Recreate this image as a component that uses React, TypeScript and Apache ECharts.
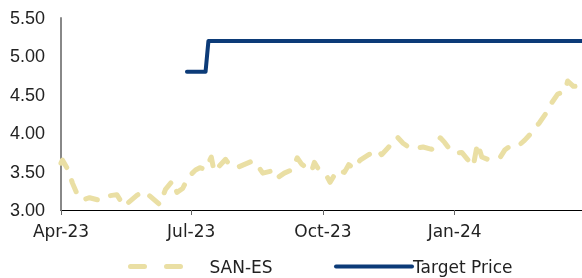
import React, { useEffect, useRef } from 'react';
import * as echarts from 'echarts';

const axisStart = '2023-04-01';
const axisEnd = '2024-03-30';

const tickDates = ['2023-04-01', '2023-07-01', '2023-10-01', '2024-01-01'];
const tickLabels = ['Apr-23', 'Jul-23', 'Oct-23', 'Jan-24'];

const sanDates = [
  '2023-04-01', '2023-04-02', '2023-04-06', '2023-04-09', '2023-04-12', '2023-04-16',
  '2023-04-21', '2023-04-27', '2023-05-03', '2023-05-10', '2023-05-15', '2023-05-17',
  '2023-05-24', '2023-05-28', '2023-06-01', '2023-06-09', '2023-06-13', '2023-06-18',
  '2023-06-21', '2023-06-25', '2023-06-29', '2023-07-04', '2023-07-07', '2023-07-11',
  '2023-07-15', '2023-07-17', '2023-07-25', '2023-07-28', '2023-08-03', '2023-08-13',
  '2023-08-17', '2023-08-20', '2023-08-29', '2023-08-31', '2023-09-04', '2023-09-10',
  '2023-09-13', '2023-09-16', '2023-09-23', '2023-09-25', '2023-09-28', '2023-10-04',
  '2023-10-06', '2023-10-11', '2023-10-16', '2023-10-19', '2023-10-23', '2023-10-27',
  '2023-11-02', '2023-11-08', '2023-11-11', '2023-11-16', '2023-11-19', '2023-11-22',
  '2023-11-26', '2023-11-29', '2023-12-04', '2023-12-10', '2023-12-16', '2023-12-22',
  '2023-12-25', '2023-12-29', '2024-01-02', '2024-01-06', '2024-01-10', '2024-01-14',
  '2024-01-17', '2024-01-20', '2024-01-24', '2024-01-28', '2024-02-02', '2024-02-05',
  '2024-02-10', '2024-02-16', '2024-02-19', '2024-02-23', '2024-02-29', '2024-03-06',
  '2024-03-09', '2024-03-13', '2024-03-18', '2024-03-20', '2024-03-24', '2024-03-30'
];
const sanValues = [
  3.61, 3.65, 3.52, 3.35, 3.22, 3.13,
  3.16, 3.13, 3.18, 3.20, 3.05, 3.08,
  3.19, 3.24, 3.20, 3.07, 3.27, 3.38,
  3.23, 3.28, 3.43, 3.52, 3.55, 3.53,
  3.69, 3.50, 3.66, 3.58, 3.56, 3.64,
  3.56, 3.48, 3.52, 3.43, 3.48, 3.53,
  3.68, 3.60, 3.50, 3.62, 3.53, 3.43,
  3.36, 3.52, 3.49, 3.59, 3.54, 3.65,
  3.72, 3.78, 3.72, 3.82, 3.91, 3.95,
  3.87, 3.83, 3.80, 3.82, 3.79, 3.94,
  3.88, 3.78, 3.74, 3.75, 3.66, 3.57,
  3.87, 3.69, 3.66, 3.68, 3.69, 3.78,
  3.85, 3.86, 3.91, 3.99, 4.13, 4.29,
  4.40, 4.51, 4.54, 4.68, 4.61, 4.62
];

const targetDates = ['2023-06-28', '2023-07-11', '2023-07-13', '2024-03-30'];
const targetValues = [4.8, 4.8, 5.2, 5.2];

function dayList(start: string, end: string): string[] {
  const out: string[] = [];
  const d = new Date(start + 'T00:00:00Z');
  const e = new Date(end + 'T00:00:00Z');
  while (d.getTime() <= e.getTime()) {
    out.push(d.toISOString().slice(0, 10));
    d.setUTCDate(d.getUTCDate() + 1);
  }
  return out;
}

export default function App() {
  const ref = useRef<HTMLDivElement>(null);
  useEffect(() => {
    const chart = echarts.init(ref.current!, null, { renderer: 'svg' });
    const days = dayList(axisStart, axisEnd);
    const sanMap = new Map(sanDates.map((d, i) => [d, sanValues[i]]));
    const tgtMap = new Map(targetDates.map((d, i) => [d, targetValues[i]]));
    const sanData = days.map((d) => (sanMap.has(d) ? sanMap.get(d) : null));
    const tgtData = days.map((d) => (tgtMap.has(d) ? tgtMap.get(d) : null));
    const isTick = (_i: number, v: string) => tickDates.indexOf(v) >= 0;

    const legendText = { fontFamily: 'DejaVu Sans', fontSize: 17, color: '#222' };

    chart.setOption({
      animation: false,
      grid: { left: 61, right: 0, top: 18, bottom: 68, containLabel: false },
      legend: [
        {
          data: ['SAN-ES'],
          left: 128,
          top: 258,
          padding: 0,
          itemWidth: 57,
          itemHeight: 18,
          itemGap: 0,
          itemStyle: { opacity: 0 },
          lineStyle: { width: 5, type: [14, 22], cap: 'round' },
          textStyle: { ...legendText, padding: [0, 0, 0, 17] },
        },
        {
          data: ['Target Price'],
          left: 334,
          top: 258,
          padding: 0,
          itemWidth: 76,
          itemHeight: 18,
          itemGap: 0,
          itemStyle: { opacity: 0 },
          lineStyle: { width: 4, cap: 'round' },
          textStyle: { ...legendText, padding: [0, 0, 0, -4] },
        },
      ],
      xAxis: {
        type: 'category',
        data: days,
        boundaryGap: false,
        axisLine: { show: true, lineStyle: { color: '#000', width: 1 } },
        axisTick: { show: true, interval: isTick, length: 5, lineStyle: { color: '#666', width: 1 } },
        axisLabel: {
          interval: isTick,
          formatter: (v: string) => tickLabels[tickDates.indexOf(v)] ?? '',
          fontFamily: 'DejaVu Sans',
          fontSize: 17,
          color: '#222',
          margin: 12,
        },
        splitLine: { show: false },
      },
      yAxis: {
        type: 'value',
        min: 3,
        max: 5.5,
        interval: 0.5,
        axisLine: { show: true, lineStyle: { color: '#888', width: 2 } },
        axisTick: { show: false },
        splitLine: { show: false },
        axisLabel: {
          formatter: (v: number) => v.toFixed(2),
          fontFamily: 'Liberation Sans',
          fontSize: 18,
          color: '#222',
          margin: 16,
        },
      },
      series: [
        {
          name: 'SAN-ES',
          type: 'line',
          data: sanData,
          connectNulls: true,
          showSymbol: false,
          symbol: 'none',
          z: 2,
          lineStyle: { color: '#EADFA4', width: 5, type: [12, 14], cap: 'round', join: 'round' },
          itemStyle: { color: '#EADFA4' },
        },
        {
          name: 'Target Price',
          type: 'line',
          data: tgtData,
          connectNulls: true,
          showSymbol: false,
          symbol: 'none',
          z: 3,
          lineStyle: { color: '#0C3B78', width: 4, cap: 'round', join: 'round' },
          itemStyle: { color: '#0C3B78' },
        },
      ],
    });
    return () => chart.dispose();
  }, []);
  return <div ref={ref} style={{ position: 'fixed', left: 0, top: 0, width: 582, height: 278 }} />;
}
